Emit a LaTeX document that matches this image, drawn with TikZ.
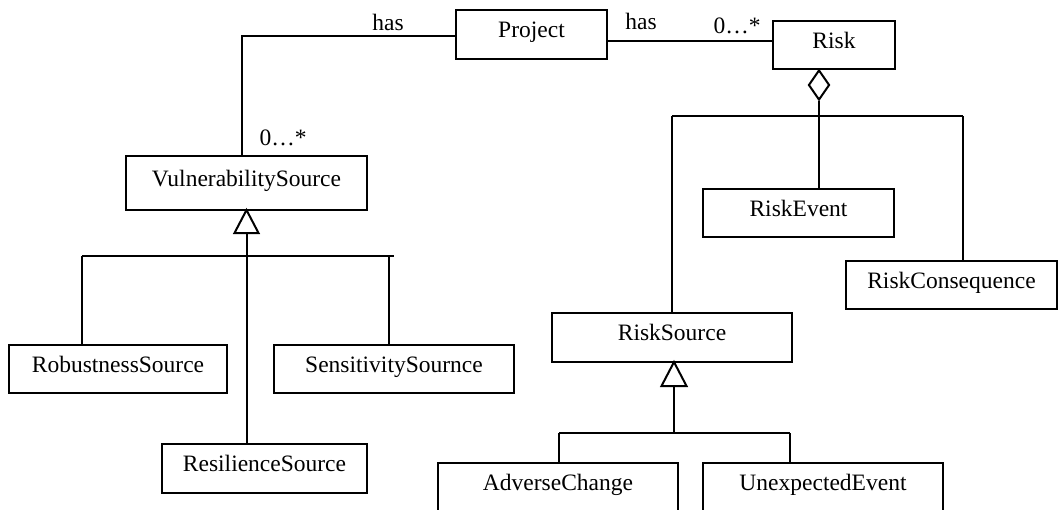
\documentclass[tikz,border=0pt]{standalone}
\usepackage{fontspec}
\setmainfont{Liberation Serif}
\usetikzlibrary{shapes.geometric,calc}
\begin{document}
\begin{tikzpicture}[x=1pt,y=-1pt,
  font=\fontsize{23.5pt}{28pt}\selectfont,
  line width=2pt,
  box/.style={draw, rectangle, inner sep=0pt, text height=15pt, text depth=9pt, outer sep=0pt},
  lbl/.style={anchor=base, inner sep=0pt}]
\useasboundingbox (0,0) rectangle (1059,509);
\clip (0,0) rectangle (1059,509);

% classes
\node[box, minimum width=151pt, minimum height=49pt] (project)  at (531.5,34.5) {Project};
\node[box, minimum width=122pt, minimum height=48pt] (risk)     at (834,45)     {Risk};
\node[box, minimum width=241pt, minimum height=54pt] (vuln)     at (246.5,183)  {VulnerabilitySource};
\node[box, minimum width=191pt, minimum height=48pt] (rEvent)   at (798.5,213)  {RiskEvent};
\node[box, minimum width=211pt, minimum height=48pt] (rCons)    at (951.5,285)  {RiskConsequence};
\node[box, minimum width=218pt, minimum height=48pt] (robust)   at (118,369)    {RobustnessSource};
\node[box, minimum width=240pt, minimum height=48pt] (sensit)   at (394,369)    {SensitivitySournce};
\node[box, minimum width=205pt, minimum height=49pt] (resil)    at (264.5,468.5){ResilienceSource};
\node[box, minimum width=240pt, minimum height=49pt] (rSource)  at (672,337.5)  {RiskSource};
\node[box, minimum width=240pt, minimum height=49pt] (adverse)  at (558,487.5)  {AdverseChange};
\node[box, minimum width=240pt, minimum height=49pt] (unexp)    at (823,487.5)  {UnexpectedEvent};

% association labels
\node[lbl] (hasL)  at (388,30)  {has};
\node[lbl] (hasR)  at (641,29)  {has};
\node[lbl] (multR) at (737,33)  {0…*};
\node[lbl] (multL) at (283,145) {0…*};

% Project -- VulnerabilitySource
\coordinate (vBend) at (242,36);
\draw (project.west |- vBend) -- (vBend) -- (vBend |- vuln.north);

% Project -- Risk
\coordinate (prLine) at (700,41);
\draw (project.east |- prLine) -- (risk.west |- prLine);

% aggregation of Risk
\node[draw, diamond, minimum width=21pt, minimum height=30pt, inner sep=0pt, anchor=north, fill=white]
  (agg) at (819,69) {};
\coordinate (aggL) at (672,116);
\coordinate (aggR) at (963,116);
\draw (agg.south) -- (agg.south |- rEvent.north);
\draw (aggL) -- (aggR);
\draw (aggL) -- (aggL |- rSource.north);
\draw (aggR) -- (aggR |- rCons.north);

% generalisation of VulnerabilitySource
\draw[fill=white] (vuln.south) -- ++(12,23) -- ++(-24,0) -- cycle;
\coordinate (vTri) at ($(vuln.south)+(0,23)$);
\coordinate (vBarL) at (82,256);
\coordinate (vBarR) at (394,256);
\coordinate (vDrop) at (389,256);
\draw (vTri) -- (vTri |- resil.north);
\draw (vBarL) -- (vBarR);
\draw (vBarL) -- (vBarL |- robust.north);
\draw (vDrop) -- (vDrop |- sensit.north);

% generalisation of RiskSource
\draw[fill=white] (rSource.south) ++(2,0) -- ++(12.5,24) -- ++(-25,0) -- cycle;
\coordinate (sTri) at ($(rSource.south)+(2,24)$);
\coordinate (sBarL) at (559,433);
\coordinate (sBarR) at (790,433);
\draw (sTri) -- (sTri |- sBarL);
\draw (sBarL) -- (sBarR);
\draw (sBarL) -- (sBarL |- adverse.north);
\draw (sBarR) -- (sBarR |- unexp.north);
\end{tikzpicture}
\end{document}
